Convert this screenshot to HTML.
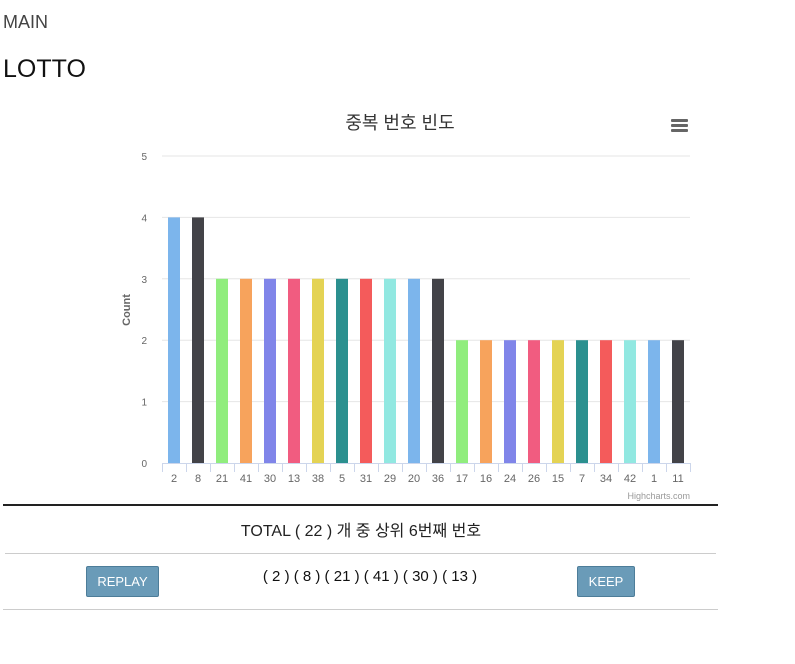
<!DOCTYPE html>
<html><head><meta charset="utf-8"><style>
body{margin:0;width:795px;height:664px;background:#fff;font-family:"Liberation Sans","Noto Sans CJK KR",sans-serif;position:relative;overflow:hidden}
.a{position:absolute}
.btn{position:absolute;background:#6a9bb8;border:1px solid #4d7d99;border-radius:2px;color:#fff;font-size:13px;display:flex;align-items:center;justify-content:center}
</style></head><body>
<div class="a" style="left:3px;top:12px;font-size:18px;color:#444">MAIN</div>
<div class="a" style="left:3px;top:55px;font-size:25px;color:#111">LOTTO</div>
<svg class="a" style="left:0;top:0" width="795" height="510" id="chart">
<text x="400" y="129" text-anchor="middle" font-size="18" fill="#333" font-family="Liberation Sans, Noto Sans CJK KR, sans-serif">중복 번호 빈도</text>
<g fill="#666"><rect x="671" y="119" width="17" height="3" rx="1"/><rect x="671" y="124" width="17" height="3" rx="1"/><rect x="671" y="129" width="17" height="3" rx="1"/></g>
<text transform="translate(130,310) rotate(-90)" text-anchor="middle" font-size="11" font-weight="bold" fill="#666">Count</text>
<text x="690" y="499" text-anchor="end" font-size="9" fill="#999">Highcharts.com</text>
</svg>
<div class="a" style="left:3px;top:504px;width:715px;height:2px;background:#222"></div>
<div class="a" style="left:0;top:517px;width:722px;text-align:center;font-size:16px;color:#222">TOTAL ( 22 ) 개 중 상위 6번째 번호</div>
<div class="a" style="left:5px;top:553px;width:711px;height:1px;background:#ccc"></div>
<div class="btn" style="left:86px;top:566px;width:71px;height:29px">REPLAY</div>
<div class="a" style="left:180px;top:568px;width:380px;text-align:center;font-size:15px;color:#111">( 2 ) ( 8 ) ( 21 ) ( 41 ) ( 30 ) ( 13 )</div>
<div class="btn" style="left:577px;top:566px;width:56px;height:29px">KEEP</div>
<div class="a" style="left:3px;top:609px;width:715px;height:1px;background:#ccc"></div>
<script>
const categories=["2","8","21","41","30","13","38","5","31","29","20","36","17","16","24","26","15","7","34","42","1","11"];
const counts=[4,4,3,3,3,3,3,3,3,3,3,3,2,2,2,2,2,2,2,2,2,2];
const yTicks=[0,1,2,3,4,5];
const colors=["#7cb5ec","#434348","#90ed7d","#f7a35c","#8085e9","#f15c80","#e4d354","#2b908f","#f45b5b","#91e8e1"];
const svg=document.getElementById('chart'),NS="http://www.w3.org/2000/svg";
const L=162,R=690,T=156,B=463;
const y=v=>B-(v/5)*(B-T);
const step=(R-L)/categories.length;
const x=i=>L+i*step;
function mk(t,a){const e=document.createElementNS(NS,t);for(const k in a)e.setAttribute(k,a[k]);svg.appendChild(e);return e;}
yTicks.forEach(v=>{
 if(v>0){const g=mk('line',{x1:L,x2:R,y1:y(v),y2:y(v),stroke:'#e6e6e6'});
 
 }
 const t=mk('text',{x:147,y:y(v)+4,'text-anchor':'end','font-size':10,fill:'#666'});t.textContent=v;
 
 
});
counts.forEach((c,i)=>{
 const r=mk('rect',{x:x(i)+step/2-6,y:y(c),width:12,height:B-y(c),fill:colors[i%10]});
 
 
});
const ax=mk('line',{x1:L,x2:R,y1:B+0.5,y2:B+0.5,stroke:'#ccd6eb'});


categories.forEach((c,i)=>{
 const tk=mk('line',{x1:x(i)+0.5,x2:x(i)+0.5,y1:B,y2:B+9,stroke:'#ccd6eb'});
 
 
 const t=mk('text',{x:x(i)+step/2,y:482,'text-anchor':'middle','font-size':11,fill:'#666'});t.textContent=c;
 
 
});
const lt=mk('line',{x1:R+0.5,x2:R+0.5,y1:B,y2:B+9,stroke:'#ccd6eb'});


</script>
</body></html>
